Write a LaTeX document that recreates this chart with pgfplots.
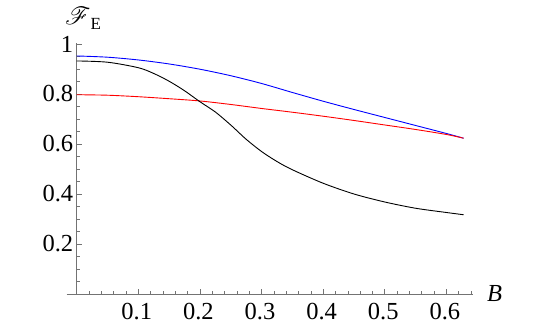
\documentclass[border=0pt]{standalone}
\usepackage{pgfplots}
\pgfplotsset{compat=1.18}
\usepackage{fontspec}
\usepackage{mathrsfs}
\setmainfont{Liberation Serif}
\newcommand{\bigfont}{\fontsize{24.5bp}{28bp}\selectfont\rmfamily}
\begin{document}
\begin{tikzpicture}
\useasboundingbox (-66.7bp,-39bp) rectangle (472.3bp,294bp);
\begin{axis}[
  at={(0,0)}, anchor=south west,
  scale only axis, width=406.3bp, height=251.3bp,
  xmin=-0.0162, xmax=0.6433, ymin=0, ymax=1.005,
  axis lines=middle,
  axis line style={-, black!55, line width=0.6bp},
  xtick={0.1,0.2,0.3,0.4,0.5,0.6},
  ytick={0.2,0.4,0.6,0.8,1},
  minor xtick={0.02,0.04,...,0.641},
  minor ytick={0.05,0.1,...,1.0},
  tick align=inside,
  major tick length=5bp, minor tick length=3bp,
  tick style={black!55, line width=0.5bp},
  /pgf/number format/assume math mode=true,
  xticklabels={0.1,0.2,0.3,0.4,0.5,0.6},
  yticklabels={0.2,0.4,0.6,0.8,1},
  tick label style={font=\bigfont},
  xticklabel style={anchor=north, yshift=-6bp, xshift=-1.5bp},
  yticklabel style={anchor=east, xshift=0bp},
  xlabel={\textit{B}},
  ylabel={{\fontsize{27bp}{30bp}\selectfont$\mathscr{F}$}\raisebox{-0.2em}{\fontsize{17bp}{18bp}\selectfont E}},
  xlabel style={font=\bigfont, at={(axis cs:0.666,0)}, anchor=west, inner sep=0pt},
  ylabel style={font=\bigfont, at={(axis cs:-0.019,1.076)}, anchor=base west, inner sep=0pt, rotate=0},
  clip=false,
]
\addplot[blue, line width=0.9bp, smooth] coordinates {
(0,0.952) (0.05,0.947) (0.1,0.936) (0.15,0.920) (0.2,0.899) (0.25,0.873)
(0.3,0.842) (0.35,0.806) (0.4,0.771) (0.45,0.738) (0.5,0.706) (0.55,0.674)
(0.6,0.642) (0.628,0.623)};
\addplot[red, line width=0.9bp, smooth] coordinates {
(0,0.797) (0.05,0.795) (0.1,0.789) (0.15,0.781) (0.2,0.772) (0.25,0.758)
(0.3,0.742) (0.35,0.727) (0.4,0.711) (0.45,0.694) (0.5,0.676) (0.55,0.658)
(0.6,0.638) (0.628,0.623)};
\addplot[black, line width=0.9bp, smooth] coordinates {
(0,0.932) (0.05,0.927) (0.1,0.905) (0.125,0.882) (0.15,0.851) (0.175,0.813)
(0.2,0.769) (0.225,0.728) (0.25,0.676) (0.275,0.619) (0.3,0.570) (0.325,0.530)
(0.35,0.497) (0.4,0.443) (0.45,0.400) (0.5,0.368) (0.55,0.343) (0.6,0.326)
(0.628,0.317)};
\end{axis}
\end{tikzpicture}
\end{document}
